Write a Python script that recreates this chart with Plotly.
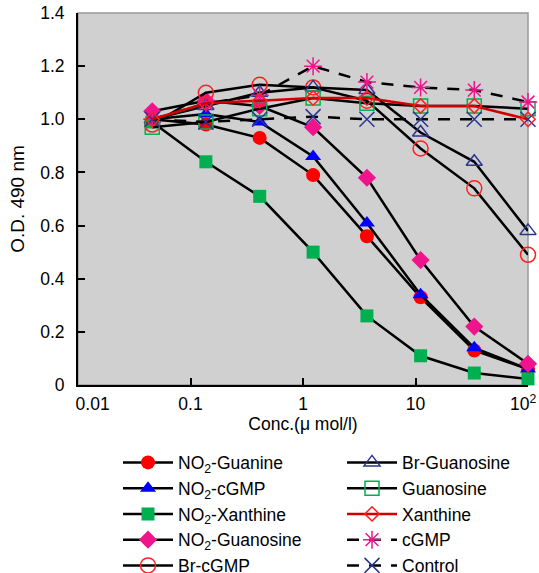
import plotly.graph_objects as go

conc = [0.0457, 0.137, 0.412, 1.23, 3.70, 11.1, 33.3, 100]

no2_guanine   = [1.00, 0.98, 0.93, 0.79, 0.56, 0.33, 0.13, 0.06]
no2_cgmp      = [1.00, 1.02, 0.99, 0.86, 0.61, 0.34, 0.14, 0.06]
no2_xanthine  = [0.99, 0.84, 0.71, 0.50, 0.26, 0.11, 0.045, 0.023]
no2_guanosine = [1.03, 1.07, 1.05, 0.97, 0.78, 0.47, 0.22, 0.08]
br_cgmp       = [0.98, 1.10, 1.13, 1.12, 1.07, 0.89, 0.74, 0.49]
br_guanosine  = [1.00, 1.05, 1.10, 1.12, 1.11, 0.95, 0.84, 0.58]
guanosine     = [0.97, 0.99, 1.04, 1.08, 1.06, 1.05, 1.05, 1.04]
xanthine      = [1.00, 1.06, 1.07, 1.08, 1.08, 1.05, 1.05, 1.00]
cgmp          = [1.00, 1.06, 1.09, 1.20, 1.14, 1.12, 1.11, 1.065]
control       = [1.00, 0.99, 1.00, 1.01, 1.00, 1.00, 1.00, 1.00]

x_tickvals = [0.01, 0.1, 1, 10, 100]
x_ticktext = ["\u00a0" * 6 + "0.01", "0.1", "1", "10", "10<sup>2</sup>\u00a0\u00a0"]
y_tickvals = [0, 0.2, 0.4, 0.6, 0.8, 1.0, 1.2, 1.4]
y_ticktext = ["0", "0.2", "0.4", "0.6", "0.8", "1.0", "1.2", "1.4"]

RED = "#ff0000"
BLUE = "#0000ff"
GREEN = "#00b050"
PINK = "#f0148c"
NAVY = "#2a3590"
XRED = "#d00000"

solid = dict(color="black", width=2.5)
dashed = dict(color="black", width=2.5, dash="12px,10px")

series = [
    # name, y, marker, line, legend, rank
    ("NO<sub>2</sub>-Guanine", no2_guanine,
     dict(symbol="circle", size=14, color=RED), solid, "legend", 1),
    ("NO<sub>2</sub>-cGMP", no2_cgmp,
     dict(symbol="triangle-up", size=14, color=BLUE), solid, "legend", 2),
    ("NO<sub>2</sub>-Xanthine", no2_xanthine,
     dict(symbol="square", size=13, color=GREEN), solid, "legend", 3),
    ("NO<sub>2</sub>-Guanosine", no2_guanosine,
     dict(symbol="diamond", size=14, color=PINK), solid, "legend", 4),
    ("Br-cGMP", br_cgmp,
     dict(symbol="circle-open", size=15, color="#ff2020", line=dict(width=1.5)), solid, "legend", 5),
    ("Br-Guanosine", br_guanosine,
     dict(symbol="triangle-up-open", size=14, color=NAVY, line=dict(width=1.5)), solid, "legend2", 6),
    ("Guanosine", guanosine,
     dict(symbol="square-open", size=14, color=GREEN, line=dict(width=1.5)), solid, "legend2", 7),
    ("cGMP", cgmp,
     dict(symbol="asterisk-open", size=15, color=PINK, line=dict(width=1.5, color=PINK)), dashed, "legend2", 9),
    ("Control", control,
     dict(symbol="x-thin-open", size=15, color=NAVY, line=dict(width=1.5, color=NAVY)), dashed, "legend2", 10),
    ("Xanthine", xanthine,
     dict(symbol="diamond-open", size=11, color="#ff2020", line=dict(width=1.5)), dict(color=XRED, width=2.5), "legend2", 8),
]

fig = go.Figure()
for name, y, marker, line, leg, rank in series:
    fig.add_trace(go.Scatter(
        x=conc, y=y, name=name, mode="lines+markers",
        marker=marker, line=line, legend=leg, legendrank=rank,
        legendgroup=name, cliponaxis=False,
    ))

FONT = "Liberation Sans, Arial, sans-serif"

fig.update_layout(
    width=539, height=573,
    margin=dict(l=78, r=11, t=13, b=188, autoexpand=False),
    paper_bgcolor="white",
    plot_bgcolor="#d0d0d0",
    font=dict(family=FONT, size=17, color="black"),
    xaxis=dict(
        type="log", range=[-2, 2],
        tickvals=x_tickvals, ticktext=x_ticktext,
        ticks="inside", ticklen=7, tickwidth=1.5, tickcolor="black",
        showline=True, linecolor="black", linewidth=2,
        showgrid=False, zeroline=False,
        ticklabelstandoff=2, ticklabeloverflow="allow",
        tickfont=dict(size=17.5),
        title=dict(text="Conc.(μ mol/l)", font=dict(size=17.5), standoff=1),
    ),
    yaxis=dict(
        range=[0, 1.4],
        tickvals=y_tickvals, ticktext=y_ticktext,
        ticks="inside", ticklen=7, tickwidth=1.5, tickcolor="black",
        showline=True, linecolor="black", linewidth=2,
        showgrid=False, zeroline=False,
        ticklabelstandoff=8, ticklabeloverflow="allow",
        tickfont=dict(size=17.5),
        title=dict(text="O.D. 490 nm", font=dict(size=19), standoff=11),
    ),
    legend=dict(
        x=0.0889, y=-0.16, xanchor="left", yanchor="top",
        bgcolor="rgba(0,0,0,0)", font=dict(size=17.5),
        tracegroupgap=0, itemwidth=50,
    ),
    legend2=dict(
        x=0.5867, y=-0.16, xanchor="left", yanchor="top",
        bgcolor="rgba(0,0,0,0)", font=dict(size=17.5),
        tracegroupgap=0, itemwidth=50,
    ),
    shapes=[dict(
        type="rect", xref="paper", yref="paper", x0=0, y0=0, x1=1, y1=1,
        line=dict(color="#999999", width=1.5), layer="below",
    )],
)

fig.write_html(
    "out.html",
    config={"displayModeBar": False},
    post_script="document.body.style.margin='0';document.body.style.overflow='hidden';",
)
